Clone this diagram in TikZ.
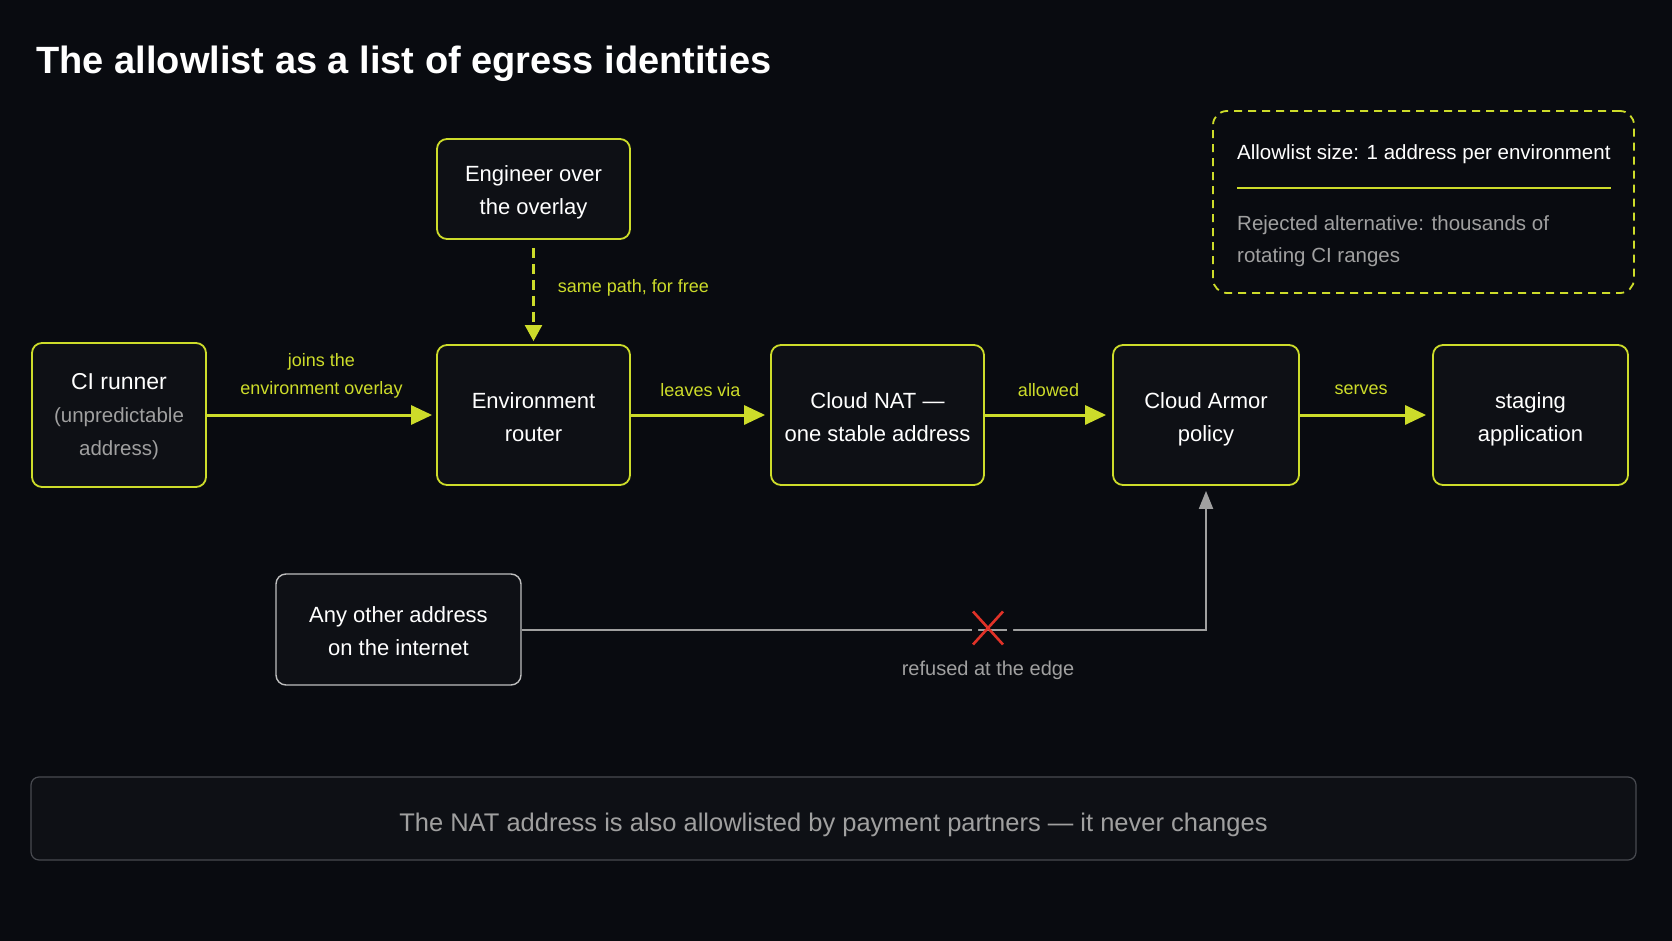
\documentclass[tikz,border=0pt]{standalone}
\usepackage{fontspec}
\setmainfont{Liberation Sans}
\usetikzlibrary{arrows.meta}
\definecolor{bgdark}{RGB}{9,11,16}
\definecolor{boxfill}{RGB}{14,16,21}
\definecolor{lime}{RGB}{205,220,42}
\definecolor{softgray}{RGB}{160,160,160}
\definecolor{edgegray}{RGB}{190,190,190}
\definecolor{bannerline}{RGB}{72,74,80}
\definecolor{crossred}{RGB}{225,50,40}
\tikzset{
  stage/.style={draw=lime, line width=1.8pt, fill=boxfill, rounded corners=10pt, align=center,
    text=white, font=\fontsize{22}{33}\selectfont, inner sep=0pt, text height=52pt, text depth=0pt},
  flow/.style={draw=lime, line width=3pt, -{Triangle[length=21pt,width=19pt]}, shorten >=5pt},
  flowlabel/.style={text=lime, font=\fontsize{18}{28}\selectfont, align=center},
  notebox/.style={draw=lime, line width=1.8pt, dash pattern=on 8pt off 6pt, rounded corners=14pt},
}
\begin{document}
\begin{tikzpicture}[x=1pt, y=-1pt]
  \fill[bgdark] (0,0) rectangle (1672,941);
  \node[anchor=base west, text=white, font=\fontsize{38}{44}\selectfont\bfseries] (title) at (33,74)
    {The allowlist as a list of egress identities};

  \node[stage, text height=80pt, minimum width=174pt, minimum height=144pt] (ci) at (119,415)
    {\fontsize{23}{33}\selectfont CI runner\\ \fontsize{20.5}{32}\selectfont\color{softgray}(unpredictable\\
     \fontsize{20.5}{32}\selectfont\color{softgray}address)};
  \node[stage, minimum width=193pt, minimum height=100pt] (eng) at (533.5,189) {Engineer over\\the overlay};
  \node[stage, minimum width=193pt, minimum height=140pt] (env) at (533.5,415) {Environment\\router};
  \node[stage, minimum width=213pt, minimum height=140pt] (nat) at (877.5,415) {Cloud NAT ---\\one stable address};
  \node[stage, minimum width=186pt, minimum height=140pt] (armor) at (1206,415) {Cloud Armor\\policy};
  \node[stage, minimum width=195pt, minimum height=140pt] (staging) at (1530.5,415) {staging\\application};
  \node[stage, draw=edgegray, line width=1.4pt, text height=51pt, minimum width=245pt, minimum height=111pt] (other)
    at (398.5,629.5) {Any other address\\on the internet};

  \draw[flow, shorten >=4pt] (ci) -- (env) node[flowlabel, midway, yshift=39pt] {joins the\\environment overlay};
  \draw[flow] (env) -- (nat) node[flowlabel, midway, yshift=25pt] {leaves via};
  \draw[flow, shorten >=6pt] (nat) -- (armor) node[flowlabel, midway, yshift=25pt] {allowed};
  \draw[flow, shorten >=6pt] (armor) -- (staging) node[flowlabel, midway, yshift=25pt, xshift=-5pt] {serves};
  \draw[flow, line width=2.2pt, dash pattern=on 10pt off 6pt, -{Triangle[length=16pt,width=17pt]},
    shorten <=8pt, shorten >=3pt] (eng) -- (env)
    node[flowlabel, midway, anchor=west, xshift=20pt, yshift=4pt] {same path, for free};

  \coordinate (cut) at (988,629.5);
  \draw[softgray, line width=2pt, -{Triangle[length=18pt,width=14pt]}, shorten >=5pt] (other.east) -| (armor.south);
  \fill[bgdark] ([shift={(-16,-3)}]cut) rectangle ([shift={(-10,3)}]cut)
    ([shift={(19,-3)}]cut) rectangle ([shift={(25,3)}]cut);
  \draw[crossred, line width=2.6pt] ([shift={(-15,-18)}]cut) -- ([shift={(15,15)}]cut)
    ([shift={(15,-18)}]cut) -- ([shift={(-15,15)}]cut);
  \node[text=softgray, font=\fontsize{20}{24}\selectfont] (refused) at (988,670) {refused at the edge};

  \node[notebox, minimum width=421pt, minimum height=182pt] (note) at (1423.5,202) {};
  \node[anchor=west, text=white, font=\fontsize{20.5}{32}\selectfont, inner sep=0pt] (notehead) at (1237,154)
    {Allowlist size: 1 address per environment};
  \draw[lime, line width=1.2pt] (1237,188) -- (1611,188);
  \node[anchor=west, text=softgray, align=left, font=\fontsize{20.5}{32}\selectfont, inner sep=0pt] (notebody) at (1237,241)
    {Rejected alternative: thousands of\\rotating CI ranges};

  \node[draw=bannerline, line width=1.2pt, fill=boxfill, rounded corners=8pt, minimum width=1605pt, minimum height=83pt,
    text=softgray, font=\fontsize{25.5}{30}\selectfont, text height=25pt, text depth=0pt] (banner) at (833.5,818.5)
    {The NAT address is also allowlisted by payment partners --- it never changes};
\end{tikzpicture}
\end{document}
